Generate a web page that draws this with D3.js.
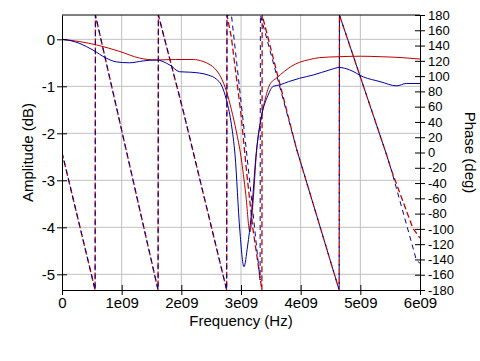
<!DOCTYPE html>
<html lang="en">
<head>
<meta charset="utf-8">
<title>Amplitude and phase</title>
<script src="https://d3js.org/d3.v7.min.js"></script>
<style>
  body { margin: 0; background: #fff; }
  text { font-family: "Liberation Sans", Arial, sans-serif; font-size: 15px; fill: #000; }
  .axis path, .axis line { stroke: #000; }
  .grid line { stroke: #c0c0c0; }
</style>
</head>
<body>
<div id="chart"></div>
<script>
// frequency in GHz (axis labels show Hz)
const freqTicks = [0, 1, 2, 3, 4, 5, 6];
const freqLabels = ["0", "1e09", "2e09", "3e09", "4e09", "5e09", "6e09"];
const ampTicks = [0, -1, -2, -3, -4, -5];
const phaseTicks = [180, 160, 140, 120, 100, 80, 60, 40, 20, 0, -20, -40, -60, -80, -100, -120, -140, -160, -180];

// red amplitude (dB)
const redAmpF = [0, 0.3, 0.58, 0.97, 1.3, 1.58, 1.9, 2.2, 2.36, 2.48, 2.56, 2.66, 2.76, 2.84, 2.92, 3.0, 3.08, 3.15, 3.2, 3.26, 3.32, 3.4, 3.48, 3.6, 3.73, 3.85, 3.98, 4.15, 4.32, 4.65, 5.0, 5.33, 5.7, 6.0];
const redAmp  = [0, -0.05, -0.12, -0.26, -0.40, -0.44, -0.43, -0.43, -0.47, -0.54, -0.62, -0.80, -1.12, -1.5, -1.95, -2.5, -3.3, -4.1, -3.5, -2.4, -1.8, -1.3, -0.97, -0.82, -0.68, -0.57, -0.49, -0.43, -0.39, -0.37, -0.36, -0.37, -0.39, -0.42];

// blue amplitude (dB)
const blueAmpF = [0, 0.15, 0.30, 0.52, 0.74, 0.91, 1.13, 1.36, 1.58, 1.81, 1.97, 2.15, 2.31, 2.45, 2.59, 2.67, 2.76, 2.84, 2.90, 2.98, 3.05, 3.11, 3.17, 3.26, 3.35, 3.45, 3.54, 3.65, 3.8, 3.98, 4.21, 4.49, 4.65, 4.82, 5.05, 5.33, 5.61, 5.77, 6.0];
const blueAmp  = [0, -0.03, -0.09, -0.23, -0.40, -0.48, -0.50, -0.46, -0.44, -0.55, -0.69, -0.70, -0.72, -0.76, -0.85, -0.97, -1.31, -1.82, -2.46, -4.06, -4.84, -4.4, -3.77, -2.36, -1.6, -1.2, -1.0, -0.97, -0.9, -0.83, -0.76, -0.65, -0.60, -0.65, -0.80, -0.90, -0.99, -0.94, -0.94];

// red phase (deg, wrapped)
const redPhF = [0, 0.555, 0.56, 1.085, 1.61, 1.615, 2.03, 2.76, 2.765, 2.84, 3.0, 3.1, 3.2, 3.35, 3.355, 3.93, 4.645, 4.65, 5.44, 5.52, 5.88, 6.0];
const redPh  = [0, -180, 180, 0, -180, 180, 55, -180, 180, 150, 50, -30, -100, -180, 180, 5, -180, 180, -3, -23, -99, -112];

// blue phase (deg, wrapped)
const bluePhF = [0, 0.555, 0.56, 1.085, 1.61, 1.615, 2.03, 2.76, 2.765, 2.84, 3.09, 3.32, 3.325, 3.93, 4.645, 4.65, 5.44, 5.52, 5.94, 6.0];
const bluePh  = [0, -180, 180, 0, -180, 180, 55, -180, 180, 180, 3, -167, 180, 5, -180, 180, -3, -23, -141, -145];

const W = 480, H = 361;
const margin = {top: 15, right: 60, bottom: 71, left: 62};
const width = W - margin.left - margin.right;
const height = H - margin.top - margin.bottom;

const x = d3.scaleLinear().domain([0, 6]).range([0, width]);
const yAmp = d3.scaleLinear().domain([-5.334, 0.517]).range([height, 0]);
const yPh = d3.scaleLinear().domain([-180, 180]).range([height, 0]);

const svg = d3.select("#chart").append("svg")
    .attr("width", W).attr("height", H);

svg.append("defs").append("clipPath").attr("id", "clip")
  .append("rect").attr("width", width).attr("height", height);

const g = svg.append("g")
    .attr("transform", "translate(" + margin.left + "," + margin.top + ")");

// grid
const grid = g.append("g").attr("class", "grid");
grid.selectAll(".gx").data(freqTicks.slice(1, -1)).join("line")
    .attr("x1", d => x(d)).attr("x2", d => x(d))
    .attr("y1", 0).attr("y2", height);
grid.selectAll(".gy").data(ampTicks).join("line")
    .attr("x1", 0).attr("x2", width)
    .attr("y1", d => yAmp(d)).attr("y2", d => yAmp(d));

// curves
const plot = g.append("g").attr("clip-path", "url(#clip)");
const pairs = (fs, vs) => fs.map((f, i) => [f, vs[i]]);
const ampLine = d3.line().x(d => x(d[0])).y(d => yAmp(d[1])).curve(d3.curveMonotoneX);
const phLine = d3.line().x(d => x(d[0])).y(d => yPh(d[1]));

plot.append("path").datum(pairs(redPhF, redPh))
    .attr("d", phLine).attr("fill", "none")
    .attr("stroke", "#c00000").attr("stroke-width", 1.3)
    .attr("stroke-dasharray", "6,3");
plot.append("path").datum(pairs(bluePhF, bluePh))
    .attr("d", phLine).attr("fill", "none")
    .attr("stroke", "#0000a0").attr("stroke-width", 1)
    .attr("stroke-dasharray", "5,4").attr("stroke-dashoffset", 1);
plot.append("path").datum(pairs(redAmpF, redAmp))
    .attr("d", ampLine).attr("fill", "none")
    .attr("stroke", "#c00000").attr("stroke-width", 1);
plot.append("path").datum(pairs(blueAmpF, blueAmp))
    .attr("d", ampLine).attr("fill", "none")
    .attr("stroke", "#0000a0").attr("stroke-width", 1);

// frame top
g.append("line").attr("x1", 0).attr("x2", width).attr("y1", 0).attr("y2", 0)
    .attr("stroke", "#000");

// axes
const xAxis = g.append("g").attr("class", "axis")
    .attr("transform", "translate(0," + height + ")")
    .call(d3.axisBottom(x).tickValues(freqTicks)
        .tickFormat((d, i) => freqLabels[i]).tickSize(5).tickPadding(2).tickSizeOuter(0));
xAxis.selectAll(".tick line").attr("y1", -5);

const yAxisL = g.append("g").attr("class", "axis")
    .call(d3.axisLeft(yAmp).tickValues(ampTicks).tickFormat(d => String(d))
        .tickSize(5).tickPadding(2).tickSizeOuter(0));
yAxisL.selectAll(".tick line").attr("x1", 5);

const yAxisR = g.append("g").attr("class", "axis")
    .attr("transform", "translate(" + width + ",0)")
    .call(d3.axisRight(yPh).tickValues(phaseTicks).tickFormat(d => String(d))
        .tickSize(5).tickPadding(3).tickSizeOuter(0));
yAxisR.selectAll(".tick line").attr("x1", -5);

svg.selectAll(".axis text").style("font-size", "15px")
    .style("font-family", "'Liberation Sans', Arial, sans-serif");
yAxisR.selectAll("text").style("font-size", "13px");

// titles
svg.append("text").attr("x", margin.left + width / 2).attr("y", 326)
    .attr("text-anchor", "middle").text("Frequency (Hz)");
svg.append("text").attr("transform", "translate(33," + (margin.top + height / 2) + ") rotate(-90)")
    .attr("text-anchor", "middle").text("Amplitude (dB)");
svg.append("text").attr("transform", "translate(465," + (margin.top + height / 2) + ") rotate(90)")
    .attr("text-anchor", "middle").text("Phase (deg)");
</script>
</body>
</html>
